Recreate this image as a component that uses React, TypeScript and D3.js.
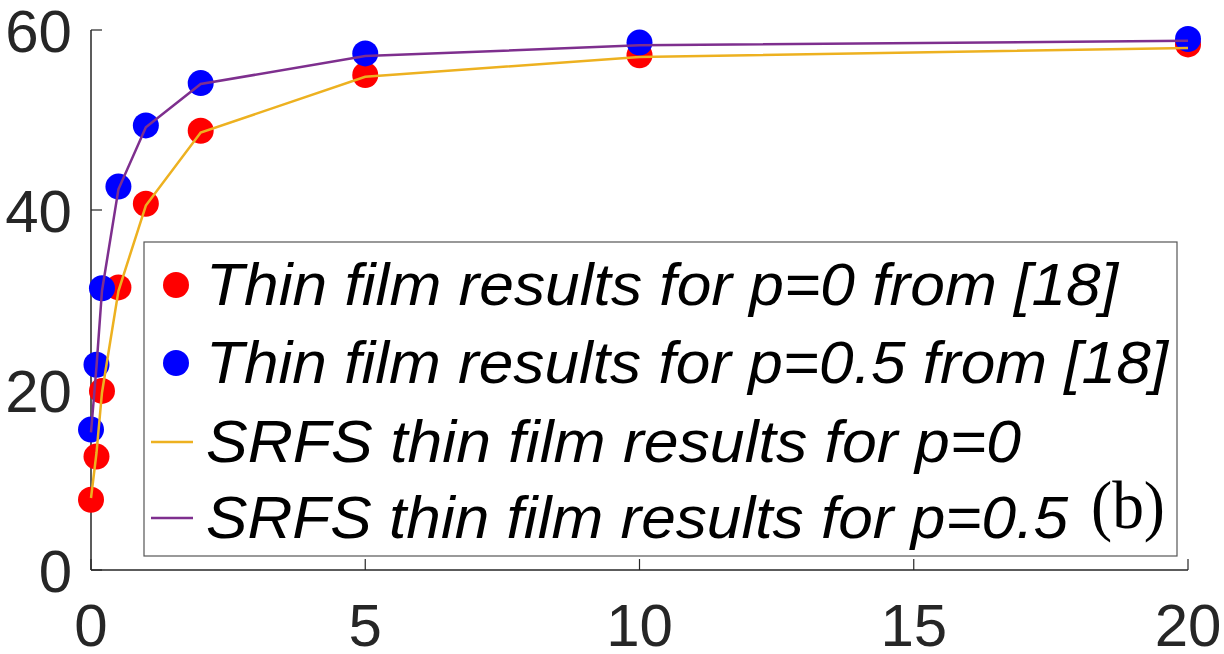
import React from "react";
import * as d3 from "d3";

const xValues = [0, 0.1, 0.2, 0.5, 1, 2, 5, 10, 20];
const refP0 = [7.8, 12.6, 19.9, 31.4, 40.7, 48.8, 55.0, 57.2, 58.4];
const refP05 = [15.6, 22.8, 31.3, 42.6, 49.4, 54.1, 57.4, 58.6, 59.0];
const srfsP0 = [8.0, 13.0, 19.7, 31.0, 40.5, 48.6, 54.8, 57.0, 58.0];
const srfsP05 = [15.3, 22.6, 31.0, 42.3, 49.2, 54.0, 57.1, 58.3, 58.8];
const xTicks = [0, 5, 10, 15, 20];
const yTicks = [0, 20, 40, 60];
const legendLabels = [
  "Thin film results for p=0 from [18]",
  "Thin film results for p=0.5 from [18]",
  "SRFS thin film results for p=0",
  "SRFS thin film results for p=0.5",
];
const panelLabel = "(b)";

const W = 1224;
const H = 654;
const RED = "#ff0000";
const BLUE = "#0000ff";
const YELLOW = "#EDB120";
const PURPLE = "#7E2F8E";
const AXIS = "#262626";
const SANS = "'Liberation Sans', Arial, Helvetica, sans-serif";

export default function App() {
  const x = d3.scaleLinear().domain([0, 20]).range([91, 1188]);
  const y = d3.scaleLinear().domain([0, 60]).range([570, 30]);
  const line = d3
    .line<number>()
    .x((_, i) => x(xValues[i]))
    .y((d) => y(d));

  const legendX = 144;
  const legendY = 242;
  const legendW = 1033;
  const legendH = 314;
  const baselines = [305, 383, 462, 538];
  const textWidths = [912, 962, 815, 862];

  return (
    <svg
      width={W}
      height={H}
      style={{ position: "absolute", left: 0, top: 0, background: "#fff" }}
    >
      <rect x={0} y={0} width={W} height={H} fill="#fff" />
      {/* axes */}
      <line x1={x(0)} x2={x(0)} y1={y(60)} y2={y(0)} stroke={AXIS} strokeWidth={1.5} />
      <line x1={x(0)} x2={x(20)} y1={y(0)} y2={y(0)} stroke={AXIS} strokeWidth={1.5} />
      {xTicks.map((t) => (
        <g key={"xt" + t}>
          <line x1={x(t)} x2={x(t)} y1={y(0)} y2={y(0) - 11} stroke={AXIS} strokeWidth={1.2} />
          <text
            x={x(t)}
            y={646}
            textAnchor="middle"
            fontFamily={SANS}
            fontSize={60}
            fill={AXIS}
          >
            {t}
          </text>
        </g>
      ))}
      {yTicks.map((t) => (
        <g key={"yt" + t}>
          <line x1={x(0)} x2={x(0) + 11} y1={y(t)} y2={y(t)} stroke={AXIS} strokeWidth={1.2} />
          <text
            x={72}
            y={y(t) + 22}
            textAnchor="end"
            fontFamily={SANS}
            fontSize={60}
            fill={AXIS}
          >
            {t}
          </text>
        </g>
      ))}

      {/* reference points */}
      {refP0.map((v, i) => (
        <circle key={"r" + i} cx={x(xValues[i])} cy={y(v)} r={13} fill={RED} />
      ))}
      {refP05.map((v, i) => (
        <circle key={"b" + i} cx={x(xValues[i])} cy={y(v)} r={13} fill={BLUE} />
      ))}

      {/* SRFS lines */}
      <path d={line(srfsP0) || ""} fill="none" stroke={YELLOW} strokeWidth={2.5} />
      <path d={line(srfsP05) || ""} fill="none" stroke={PURPLE} strokeWidth={2.5} />

      {/* legend */}
      <rect
        x={legendX}
        y={legendY}
        width={legendW}
        height={legendH}
        fill="#fff"
        stroke="#555"
        strokeWidth={1.2}
      />
      <circle cx={176} cy={baselines[0] - 20} r={13} fill={RED} />
      <circle cx={176} cy={baselines[1] - 20} r={13} fill={BLUE} />
      <line x1={151} x2={193} y1={baselines[2] - 20} y2={baselines[2] - 20} stroke={YELLOW} strokeWidth={2.5} />
      <line x1={151} x2={193} y1={baselines[3] - 20} y2={baselines[3] - 20} stroke={PURPLE} strokeWidth={2.5} />
      {legendLabels.map((lab, i) => (
        <text
          key={"lg" + i}
          x={206}
          y={baselines[i]}
          fontFamily={SANS}
          fontStyle="italic"
          fontSize={60}
          fill="#000"
          textLength={textWidths[i]}
          lengthAdjust="spacingAndGlyphs"
        >
          {lab}
        </text>
      ))}
      <text
        x={1091}
        y={528}
        fontFamily="'Liberation Serif', 'Times New Roman', serif"
        fontSize={67}
        fill="#000"
        textLength={74}
        lengthAdjust="spacingAndGlyphs"
      >
        {panelLabel}
      </text>
    </svg>
  );
}
